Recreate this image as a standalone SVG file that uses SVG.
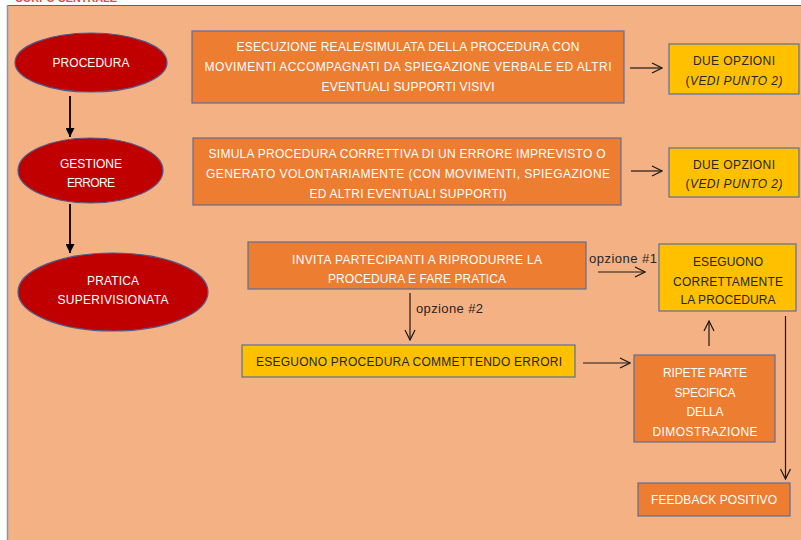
<svg xmlns="http://www.w3.org/2000/svg" width="801" height="540" viewBox="0 0 801 540">
<defs>
<style>
.t{font-family:"Liberation Sans",Arial,sans-serif;font-size:12px;text-anchor:middle}
.w{fill:#ffffff}
.d{fill:#262626}
.box{fill:#ED7D31;stroke:#5A6E9C;stroke-width:1.2}
.yel{fill:#FFC000;stroke:#5A6E9C;stroke-width:1.2}
.ell{fill:#C00000;stroke:#4A5C8E;stroke-width:1.2}
.c{fill:none;stroke:#1a1a1a;stroke-width:1.2}
.cf{fill:none;stroke:#000;stroke-width:1.8}
.lbl{font-family:"Liberation Sans",Arial,sans-serif;font-size:13px;fill:#262626}
</style>
<marker id="open" viewBox="0 0 12 12" refX="11" refY="6" markerWidth="12" markerHeight="12" markerUnits="userSpaceOnUse" orient="auto">
<path d="M1,1 L11,6 L1,11" fill="none" stroke="#1a1a1a" stroke-width="1.2"/>
</marker>
<marker id="solid" viewBox="0 0 10 10" refX="10" refY="5" markerWidth="9" markerHeight="9" markerUnits="userSpaceOnUse" orient="auto">
<path d="M0,0 L10,5 L0,10 Z" fill="#000"/>
</marker>
</defs>
<rect x="0" y="0" width="801" height="540" fill="#ffffff"/>
<text x="15" y="2" font-family="Liberation Sans,Arial,sans-serif" font-size="11" font-weight="bold" fill="#E04848" textLength="102" lengthAdjust="spacingAndGlyphs">CORPO CENTRALE</text>
<rect x="7" y="5" width="800" height="540" fill="#F4B183"/>
<line x1="7" y1="5.5" x2="801" y2="5.5" stroke="#4A6394" stroke-width="1.2"/>
<line x1="7.5" y1="5" x2="7.5" y2="540" stroke="#8096BE" stroke-width="1.5"/>

<g id="n-procedura">
<ellipse class="ell" cx="91" cy="62.5" rx="76" ry="29.5"/>
<text class="t w" x="91" y="67" textLength="77">PROCEDURA</text>
</g>
<g id="n-gestione">
<ellipse class="ell" cx="90.5" cy="170.5" rx="72.5" ry="32.5"/>
<text class="t w" x="91" y="167.5" textLength="62">GESTIONE</text>
<text class="t w" x="91" y="186.5" textLength="48">ERRORE</text>
</g>
<g id="n-pratica">
<ellipse class="ell" cx="113" cy="292" rx="95" ry="39"/>
<text class="t w" x="113" y="284.5" textLength="52">PRATICA</text>
<text class="t w" x="113" y="303.5" textLength="111">SUPERIVISIONATA</text>
</g>
<g id="n-esecuzione">
<rect class="box" x="192" y="31" width="432" height="72"/>
<text class="t w" x="408" y="51" textLength="343">ESECUZIONE REALE/SIMULATA DELLA PROCEDURA CON</text>
<text class="t w" x="408" y="71" textLength="407">MOVIMENTI ACCOMPAGNATI DA SPIEGAZIONE VERBALE ED ALTRI</text>
<text class="t w" x="408" y="91" textLength="173">EVENTUALI SUPPORTI VISIVI</text>
</g>
<g id="n-opzioni1">
<rect class="yel" x="669" y="44" width="130" height="50"/>
<text class="t d" x="734" y="65" textLength="82">DUE OPZIONI</text>
<text class="t d" x="734" y="85" textLength="97">(<tspan font-style="italic">VEDI PUNTO 2)</tspan></text>
</g>
<g id="n-simula">
<rect class="box" x="193" y="138" width="428" height="67"/>
<text class="t w" x="407" y="157.5" textLength="397">SIMULA PROCEDURA CORRETTIVA DI UN ERRORE IMPREVISTO O</text>
<text class="t w" x="408" y="177.5" textLength="404">GENERATO VOLONTARIAMENTE (CON MOVIMENTI, SPIEGAZIONE</text>
<text class="t w" x="408" y="197.5" textLength="197">ED ALTRI EVENTUALI SUPPORTI)</text>
</g>
<g id="n-opzioni2">
<rect class="yel" x="669" y="148" width="130" height="49"/>
<text class="t d" x="734" y="168.5" textLength="82">DUE OPZIONI</text>
<text class="t d" x="734" y="187.5" textLength="97">(<tspan font-style="italic">VEDI PUNTO 2)</tspan></text>
</g>
<g id="n-invita">
<rect class="box" x="248" y="242" width="338" height="47"/>
<text class="t w" x="417" y="263.5" textLength="250">INVITA PARTECIPANTI A RIPRODURRE LA</text>
<text class="t w" x="417" y="282.5" textLength="178">PROCEDURA E FARE PRATICA</text>
</g>
<g id="n-errori">
<rect class="yel" x="242" y="345" width="333" height="32"/>
<text class="t d" x="409" y="365.5" textLength="306">ESEGUONO PROCEDURA COMMETTENDO ERRORI</text>
</g>
<g id="n-corretta">
<rect class="yel" x="659" y="244" width="137" height="67"/>
<text class="t d" x="728" y="265.5" textLength="70">ESEGUONO</text>
<text class="t d" x="728" y="285.5" textLength="110">CORRETTAMENTE</text>
<text class="t d" x="728" y="303.5" textLength="95">LA PROCEDURA</text>
</g>
<g id="n-ripete">
<rect class="box" x="634" y="355" width="141" height="87"/>
<text class="t w" x="705" y="376.5" textLength="84">RIPETE PARTE</text>
<text class="t w" x="705" y="396.5" textLength="61">SPECIFICA</text>
<text class="t w" x="705" y="415.5" textLength="37">DELLA</text>
<text class="t w" x="705" y="435.5" textLength="105">DIMOSTRAZIONE</text>
</g>
<g id="n-feedback">
<rect class="box" x="638" y="483" width="152" height="33"/>
<text class="t w" x="714" y="503.5" textLength="126">FEEDBACK POSITIVO</text>
</g>

<g id="connectors">
<line class="cf" x1="70" y1="96" x2="70" y2="137" marker-end="url(#solid)"/>
<line class="cf" x1="70" y1="204" x2="70" y2="253" marker-end="url(#solid)"/>
<line class="c" x1="630" y1="68" x2="662" y2="68" marker-end="url(#open)"/>
<line class="c" x1="631" y1="171" x2="662" y2="171" marker-end="url(#open)"/>
<line class="c" x1="598" y1="272" x2="645" y2="272" marker-end="url(#open)"/>
<text class="lbl" x="589" y="263" textLength="68">opzione #1</text>
<line class="c" x1="410" y1="293" x2="410" y2="340" marker-end="url(#open)"/>
<text class="lbl" x="416" y="313" textLength="67">opzione #2</text>
<line class="c" x1="583" y1="363" x2="630" y2="363" marker-end="url(#open)"/>
<line class="c" x1="709" y1="346" x2="709" y2="321" marker-end="url(#open)"/>
<line class="c" x1="785.5" y1="316" x2="785.5" y2="479" marker-end="url(#open)"/>
</g>
</svg>
